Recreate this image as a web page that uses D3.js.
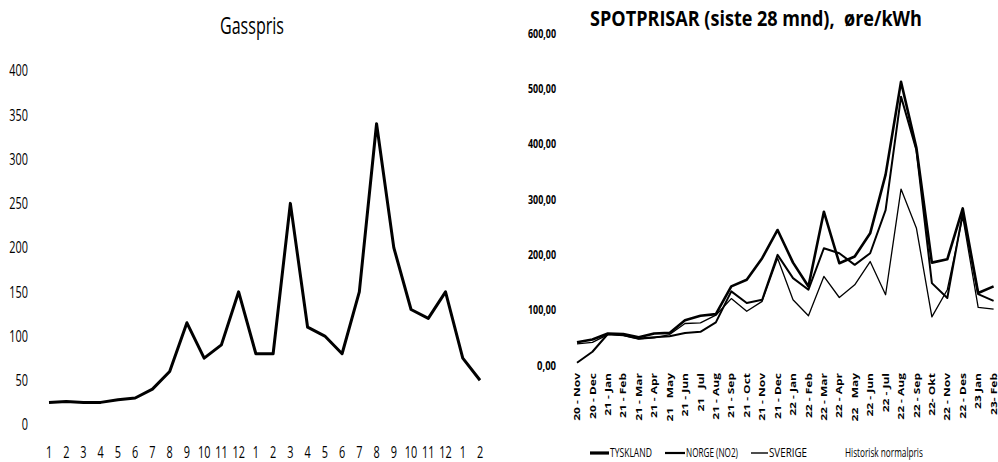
<!DOCTYPE html>
<html><head><meta charset="utf-8">
<script src="https://cdn.jsdelivr.net/npm/d3@7"></script>
<style>html,body{margin:0;padding:0;background:#fff}svg{display:block}text{white-space:pre}</style>
</head><body>
<script>
// ---------- DATA ----------
const gasMonths = ["1","2","3","4","5","6","7","8","9","10","11","12","1","2","3","4","5","6","7","8","9","10","11","12","1","2"];
const gasPrice  = [25,26,25,25,28,30,40,60,115,75,90,150,80,80,250,110,100,80,150,340,200,130,120,150,75,50];
const gasTicks  = [0,50,100,150,200,250,300,350,400];
const gasTitle  = "Gasspris";

const spotMonths = ["20 - Nov","20 - Dec","21 - Jan","21 - Feb","21 - Mar","21 - Apr","21   May","21 - Jun","21   Jul","21 - Aug","21 - Sep","21 - Oct","21 - Nov","21 - Dec","22 - Jan","22 - Feb","22 - Mar","22 - Apr","22   May","22 - Jun","22 - Jul","22 - Aug","22 - Sep","22- Okt","22 - Nov","22 - Des","23 Jan","23- Feb"];
const tyskland = [41,46,57,56,50,57,58,81,89,92,142,154,193,244,185,142,277,184,196,238,344,512,392,185,191,283,130,142];
const norge    = [4,24,56,54,48,50,52,58,60,77,133,112,118,199,157,136,211,202,181,202,280,485,388,148,121,275,128,116];
const sverige  = [38,41,55,53,47,49,55,75,76,90,120,97,115,193,118,89,160,122,145,187,127,318,247,87,136,268,104,101];
const spotTicks = [0,100,200,300,400,500,600];
const spotTitle = "SPOTPRISAR (siste 28 mnd),  øre/kWh";
const legendNames = ["TYSKLAND","NORGE (NO2)","SVERIGE","Historisk normalpris"];

// ---------- DRAW ----------
const W = 998, H = 462;
const FONT = "'Open Sans','Noto Sans',sans-serif";
const svg = d3.select("body").append("svg").attr("width", W).attr("height", H);

function sqText(g, x, y, txt, o) {
  const t = g.append("text")
    .attr("font-family", FONT)
    .attr("font-size", o.size)
    .attr("font-weight", o.bold ? "bold" : "normal")
    .attr("text-anchor", o.anchor || "middle")
    .attr("dy", o.dy || 0)
    .attr("fill", "#000")
    .text(txt);
  let sx = o.sx || 1;
  if (o.width) sx = o.width / t.node().getComputedTextLength();
  const rot = o.rotate ? ` rotate(${o.rotate})` : "";
  const sc = o.rotate ? `scale(1,${o.sy || 1})` : `scale(${sx},1)`;
  t.attr("transform", `translate(${x},${y})${rot} ${sc}`);
  return t;
}

// ----- Left chart: Gasspris -----
const gL = svg.append("g");
const xG = d3.scalePoint().domain(d3.range(gasMonths.length)).range([49, 480]);
const yG = d3.scaleLinear().domain([0, 400]).range([424.5, 70.7]);

sqText(gL, 252, 34, gasTitle, {size: 23, width: 64});
gasTicks.forEach(t => sqText(gL, 28, yG(t), String(t), {size: 16, sx: 0.68, anchor: "end", dy: "0.36em"}));
gasMonths.forEach((m, i) => sqText(gL, xG(i), 458, m, {size: 16, sx: 0.68}));

gL.append("path")
  .datum(gasPrice)
  .attr("fill", "none")
  .attr("stroke", "#000")
  .attr("stroke-width", 3)
  .attr("stroke-linejoin", "round")
  .attr("d", d3.line().x((d, i) => xG(i)).y(d => yG(d)));

// ----- Right chart: Spotprisar -----
const gR = svg.append("g");
const xS = d3.scalePoint().domain(d3.range(spotMonths.length)).range([577, 993.6]);
const yS = d3.scaleLinear().domain([0, 600]).range([365, 33]);
const loc = d3.formatLocale({decimal: ",", thousands: " ", grouping: [3], currency: ["", ""]});
const fmt = loc.format(".2f");

sqText(gR, 756, 26, spotTitle, {size: 22, bold: true, width: 332});
spotTicks.forEach(t => sqText(gR, 556, yS(t), fmt(t), {size: 13, bold: true, anchor: "end", dy: "0.36em", width: t === 0 ? 19 : 28}));
spotMonths.forEach((m, i) => sqText(gR, xS(i), 373, m, {size: 12, bold: true, anchor: "end", dy: "0.36em", rotate: -90, sy: 0.72}));

const spotLine = d3.line().x((d, i) => xS(i)).y(d => yS(d));
const series = [
  {vals: sverige, w: 1.3},
  {vals: norge, w: 2},
  {vals: tyskland, w: 2.6}
];
series.forEach(s => {
  gR.append("path").datum(s.vals)
    .attr("fill", "none").attr("stroke", "#000")
    .attr("stroke-width", s.w).attr("stroke-linejoin", "round")
    .attr("d", spotLine);
});

// Legend
const legY = 453;
const legItems = [
  {name: legendNames[0], x0: 590, x1: 609, w: 3.2, tw: 42},
  {name: legendNames[1], x0: 665, x1: 685, w: 2.2, tw: 52},
  {name: legendNames[2], x0: 751, x1: 768, w: 1.4, tw: 38},
  {name: legendNames[3], x0: 826, x1: 844, w: 0, tw: 78}
];
legItems.forEach(l => {
  if (l.w > 0) gR.append("line").attr("x1", l.x0).attr("x2", l.x1).attr("y1", legY).attr("y2", legY)
    .attr("stroke", "#000").attr("stroke-width", l.w);
  sqText(gR, l.x1 + 1, legY, l.name, {size: 12, anchor: "start", dy: "0.36em", width: l.tw});
});
</script>
</body></html>
